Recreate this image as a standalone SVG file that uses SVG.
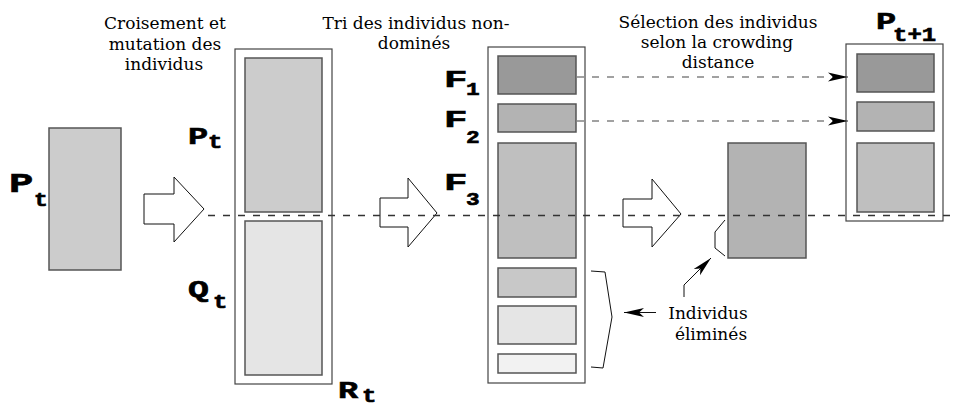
<svg xmlns="http://www.w3.org/2000/svg" width="959" height="407" viewBox="0 0 959 407">
<defs>
<style>
.bg{fill:#ffffff}
.outer{fill:#ffffff;stroke:#444444;stroke-width:1.2}
.inner{stroke:#555555;stroke-width:1.5}
.bigarrow{fill:#ffffff;stroke:#111111;stroke-width:1}
.dash{fill:none;stroke:#333333;stroke-width:1.3;stroke-dasharray:7 8}
.dash2{fill:none;stroke:#444444;stroke-width:1.2;stroke-dasharray:7 8}
.thin{fill:none;stroke:#111111;stroke-width:1}
.title{font-family:"DejaVu Serif","Liberation Serif",serif;font-size:17px;fill:#000000;text-anchor:middle}
.lab{font-family:"Liberation Mono","DejaVu Sans Mono",monospace;font-weight:bold;fill:#000000;stroke:#000000;stroke-width:0.6}
</style>
<marker id="ah" viewBox="0 0 20 10" refX="20" refY="5" markerWidth="20" markerHeight="10" markerUnits="userSpaceOnUse" orient="auto">
<path d="M0,0.5 L20,5 L0,9.5 L5,5 Z" fill="#000000"/>
</marker>
</defs>
<rect class="bg" x="0" y="0" width="959" height="407"/>

<g id="titles">
<text class="title" x="165" y="29">Croisement et</text>
<text class="title" x="165" y="50">mutation des</text>
<text class="title" x="164" y="70">individus</text>
<text class="title" x="416" y="29">Tri des individus non-</text>
<text class="title" x="414" y="49">dominés</text>
<text class="title" x="718" y="28">Sélection des individus</text>
<text class="title" x="717" y="48">selon la crowding</text>
<text class="title" x="718" y="68">distance</text>
</g>

<g id="node-pt">
<rect x="49" y="128" width="72" height="142" fill="#cccccc" class="inner"/>
<text class="lab" font-size="28" transform="translate(9,192) scale(1.45,1)">P</text>
<text class="lab" font-size="20" transform="translate(34,206) scale(1.15,1)">t</text>
</g>

<g id="arrow-1">
<polygon class="bigarrow" points="144,194 174,194 174,177 204,209 174,242 174,224 144,224"/>
</g>

<g id="node-rt">
<rect class="outer" x="235" y="49" width="97" height="335"/>
<rect x="245" y="58" width="77" height="154" fill="#cccccc" class="inner"/>
<rect x="245" y="221" width="77" height="154" fill="#e5e5e5" class="inner"/>
<text class="lab" font-size="24" transform="translate(188,144) scale(1.4,1)">P</text>
<text class="lab" font-size="20" transform="translate(208,148) scale(1.2,1)">t</text>
<text class="lab" font-size="24" transform="translate(188,297) scale(1.45,1)">Q</text>
<text class="lab" font-size="20" transform="translate(213,308) scale(1.2,1)">t</text>
<text class="lab" font-size="24" transform="translate(338,398) scale(1.4,1)">R</text>
<text class="lab" font-size="20" transform="translate(362,402) scale(1.2,1)">t</text>
</g>

<g id="arrow-2">
<polygon class="bigarrow" points="380,198 408,198 408,178 437,213 408,247 408,227 380,227"/>
</g>

<g id="node-fronts">
<rect class="outer" x="488" y="47" width="97" height="336"/>
<rect x="498" y="56" width="78" height="38" fill="#999999" class="inner"/>
<rect x="498" y="104" width="78" height="28" fill="#b3b3b3" class="inner"/>
<rect x="498" y="143" width="78" height="115" fill="#bfbfbf" class="inner"/>
<rect x="498" y="268" width="78" height="29" fill="#c8c8c8" class="inner"/>
<rect x="498" y="306" width="78" height="38" fill="#e5e5e5" class="inner"/>
<rect x="498" y="354" width="78" height="19" fill="#f2f2f2" class="inner"/>
<text class="lab" font-size="23" transform="translate(444,87) scale(1.7,1)">F</text>
<text class="lab" font-size="19" transform="translate(466,95) scale(1.2,1)">1</text>
<text class="lab" font-size="23" transform="translate(444,127) scale(1.7,1)">F</text>
<text class="lab" font-size="19" transform="translate(466,143) scale(1.2,1)">2</text>
<text class="lab" font-size="23" transform="translate(444,190) scale(1.7,1)">F</text>
<text class="lab" font-size="19" transform="translate(466,205) scale(1.2,1)">3</text>
</g>

<g id="arrow-3">
<polygon class="bigarrow" points="623,199 652,199 652,179 681,214 652,247 652,227 623,227"/>
</g>

<g id="node-selected">
<rect x="728" y="143" width="78" height="115" fill="#b3b3b3" class="inner"/>
</g>

<g id="node-pt1">
<rect class="outer" x="846" y="44" width="97" height="177"/>
<rect x="857" y="54" width="77" height="38" fill="#999999" class="inner"/>
<rect x="857" y="102" width="77" height="29" fill="#b3b3b3" class="inner"/>
<rect x="857" y="143" width="77" height="69" fill="#bfbfbf" class="inner"/>
<text class="lab" font-size="24" transform="translate(876,29) scale(1.4,1)">P</text>
<text class="lab" font-size="20" transform="translate(893,41) scale(1.2,1)">t+1</text>
</g>

<g id="label-elimines">
<text class="title" x="708" y="319" font-size="18">Individus</text>
<text class="title" x="711" y="340" font-size="18">éliminés</text>
</g>

<g id="connectors">
<line class="dash" x1="208" y1="215.5" x2="953" y2="215.5"/>
<line class="dash2" x1="577" y1="77" x2="848" y2="77" marker-end="url(#ah)"/>
<line class="dash2" x1="577" y1="121" x2="848" y2="121" marker-end="url(#ah)"/>
<polyline class="thin" points="725,220 715,232 715,248 725,256"/>
<polyline class="thin" points="591,271 605,272 612,317 603,368 591,367"/>
<line class="thin" x1="656" y1="312.5" x2="624" y2="312.5" marker-end="url(#ah)"/>
<polyline class="thin" points="684,297 684,285 711,258" marker-end="url(#ah)"/>
</g>
</svg>
